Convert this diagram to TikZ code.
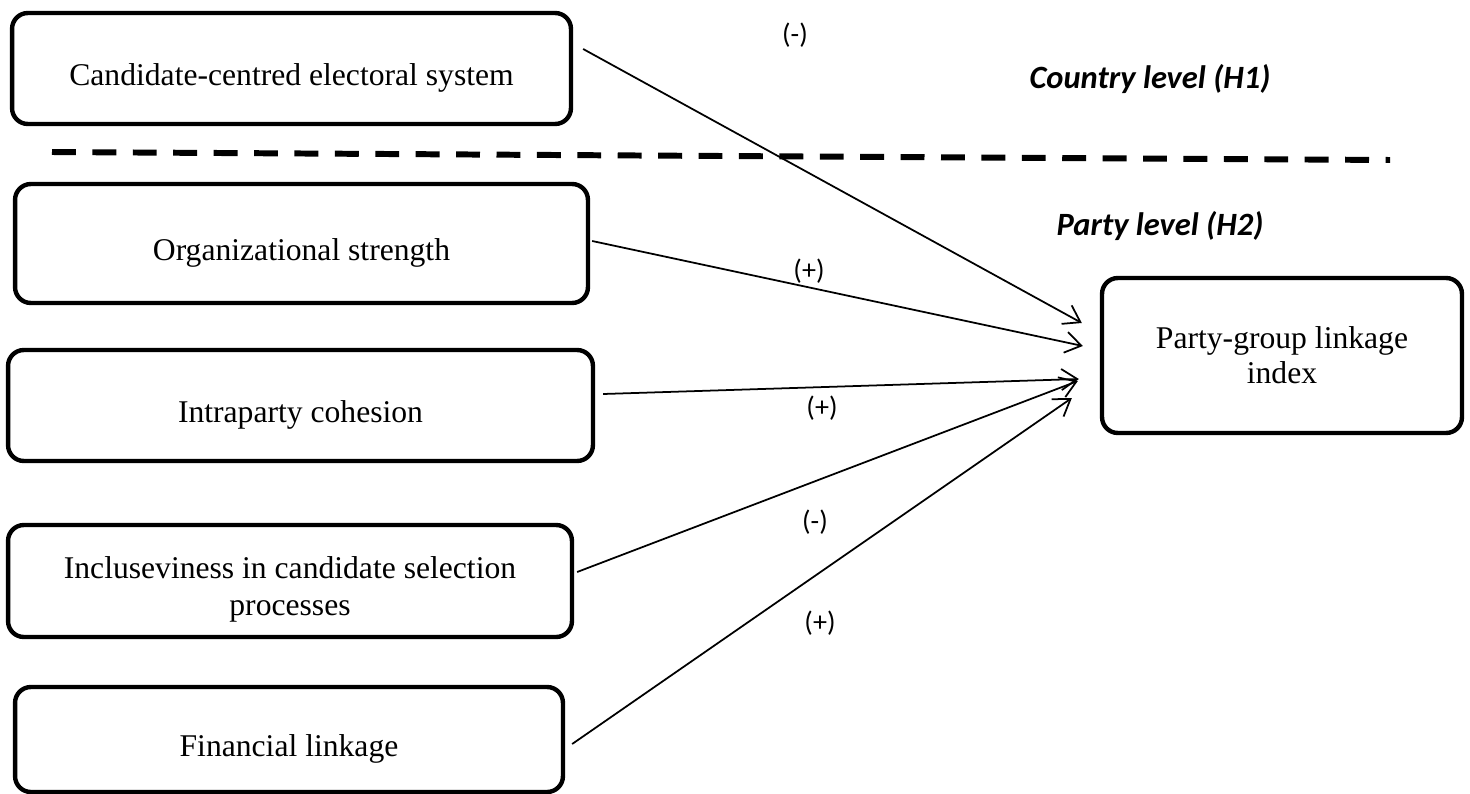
\documentclass[tikz,border=0pt]{standalone}
\usepackage{fontspec}
\setmainfont{Liberation Serif}
\newfontfamily\signfont{Carlito}
\usetikzlibrary{arrows.meta}
\tikzset{
    factor/.style={draw, line width=2.5pt, rounded corners=9pt, align=center,
        font=\fontsize{18}{20}\selectfont},
    lowtext/.style={text height=23pt, text depth=4pt},
    effect/.style={line width=1pt, -{Straight Barb[length=9pt, width=12pt]}},
    sign/.style={font=\signfont\fontsize{16}{18}\selectfont},
    level/.style={font=\signfont\bfseries\itshape\fontsize{18.5}{21}\selectfont},
}
\begin{document}
\begin{tikzpicture}[x=0.02cm, y=-0.02cm]
    \useasboundingbox (0, 0) rectangle (1470, 794);

    \node[factor, lowtext, minimum width=11.18cm, minimum height=2.22cm] (cand) at (291.5, 68.5) {Candidate-centred electoral system};
    \node[factor, lowtext, minimum width=11.46cm, minimum height=2.38cm] (org) at (301.5, 243.5) {Organizational strength};
    \node[factor, lowtext, minimum width=11.7cm, minimum height=2.22cm] (coh) at (300.5, 405.5) {Intraparty cohesion};
    \node[factor, text height=43pt, text depth=4pt, minimum width=11.28cm, minimum height=2.24cm,
        font=\fontsize{18}{21}\selectfont] (incl) at (290, 581) {Incluseviness in candidate selection\\processes};
    \node[factor, lowtext, minimum width=10.96cm, minimum height=2.1cm] (fin) at (289, 739.5) {Financial linkage};
    \node[factor, minimum width=7.2cm, minimum height=3.1cm] (link) at (1282, 355.5) {Party-group linkage\\index};

    \coordinate (divL) at (52, 152);
    \coordinate (divR) at (1390, 160);
    \draw[line width=3.4pt, dash pattern=on 13.6pt off 9.4pt] (divL) -- (divR);

    \node[level] (country) at (1150, 79) {Country level (H1)};
    \node[level] (party) at (1160, 226) {Party level (H2)};

    \draw[effect] ([shift={(10, -19.5)}]cand.east) -- ([shift={(-18, -32.5)}]link.west);
    \draw[effect] ([shift={(2, -2.5)}]org.east) -- ([shift={(-17, -9.5)}]link.west);
    \draw[effect] ([shift={(8, -11.5)}]coh.east) -- ([shift={(-21, 23.5)}]link.west);
    \draw[effect] ([shift={(3, -9)}]incl.east) -- ([shift={(-22, 25.5)}]link.west);
    \draw[effect] ([shift={(7, 4.5)}]fin.east) -- ([shift={(-28, 42.5)}]link.west);

    \node[sign] (s1) at (795, 35) {(-)};
    \node[sign] (s2) at (809, 271) {(+)};
    \node[sign] (s3) at (822, 408) {(+)};
    \node[sign] (s4) at (815, 522) {(-)};
    \node[sign] (s5) at (820, 623) {(+)};
\end{tikzpicture}
\end{document}
